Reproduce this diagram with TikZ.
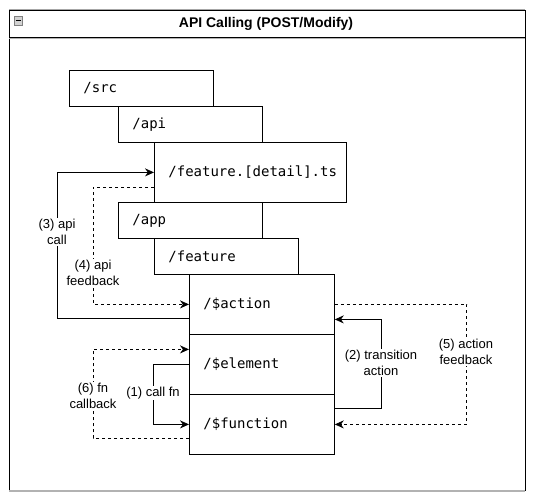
\documentclass[tikz,border=0pt]{standalone}
\usepackage{fontspec}
\setmainfont{Liberation Sans}
\newfontfamily\codefont{DejaVu Sans Mono}
\usepackage{tikz}
\usetikzlibrary{positioning,arrows.meta}

\begin{document}
\begin{tikzpicture}[x=1pt, y=-1pt, line width=0.8pt,
  dirbox/.style={draw, fill=white, anchor=north west, inner xsep=14pt, inner ysep=0pt,
    align=left, font=\codefont\fontsize{14}{16}\selectfont},
  flow/.style={-{Stealth[length=9pt, width=8pt]}},
  steplabel/.style={fill=white, inner sep=1pt, align=center, font=\fontsize{13}{16}\selectfont}]
\useasboundingbox (0,0) rectangle (537,502);

% frame with title bar
\draw[gray!70, line width=1.4pt] (9,10) -- (525,10);
\draw (9,10) rectangle (525,490);
\draw (9,37) -- (525,37);
\draw[gray!60] (9,38.5) -- (525,38.5);
\draw[gray!60, line width=1.4pt] (9,491) -- (525,491);
\draw[draw=gray, fill=gray!35, line width=0.5pt] (14,16) rectangle (22,25);
\draw[line width=1pt] (15.5,20.5) -- (20.5,20.5);
\node[font=\bfseries\fontsize{14}{16}\selectfont] (title) at (266,23.5) {API Calling (POST/Modify)};

% folder boxes
\node[dirbox, text width=116pt, minimum height=36pt] (src) at (69,70) {/src};
\node[dirbox, text width=116pt, minimum height=36pt] (api) at (118,106) {/api};
\node[dirbox, text width=164pt, minimum height=60pt] (ts) at (154,142) {/feature.[detail].ts};
\node[dirbox, text width=116pt, minimum height=36pt] (app) at (118,202) {/app};
\node[dirbox, text width=116pt, minimum height=36pt] (feat) at (154,238) {/feature};
\node[dirbox, text width=117pt, minimum height=60pt] (act) at (189,274) {/\$action};
\node[dirbox, text width=117pt, minimum height=60pt] (el) at (189,334) {/\$element};
\node[dirbox, text width=117pt, minimum height=60pt] (fn) at (189,394) {/\$function};

% calls
\draw[flow] ([yshift=-14pt]act.west) -- ++(-132,0) |- (ts.west);
\draw[flow, dashed] ([yshift=-15pt]ts.west) -- ++(-61,0) |- (act.west);
\draw[flow] ([yshift=16pt]fn.east) -- ++(47,0) |- ([yshift=-15pt]act.east);
\draw[flow, dashed] (act.east) -- ++(132,0) |- (fn.east);
\draw[flow] (el.west) -- ++(-36,0) |- (fn.west);
\draw[flow, dashed] ([yshift=-14pt]fn.west) -- ++(-96,0) |- ([yshift=15pt]el.west);

\node[steplabel] (l3) at (57,232) {(3) api\\call};
\node[steplabel] (l4) at (93,273) {(4) api\\feedback};
\node[steplabel] (l2) at (381,363) {(2) transition\\action};
\node[steplabel] (l5) at (466,352) {(5) action\\feedback};
\node[steplabel] (l1) at (153,393) {(1) call fn};
\node[steplabel] (l6) at (93,396) {(6) fn\\callback};
\end{tikzpicture}
\end{document}
